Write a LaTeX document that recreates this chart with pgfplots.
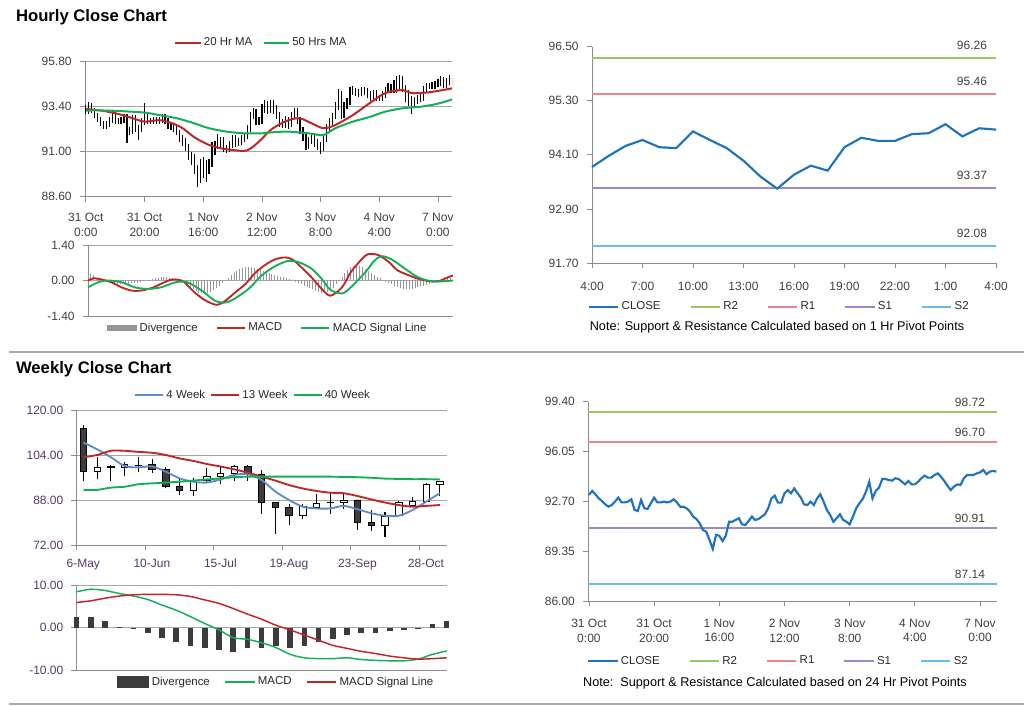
\documentclass[border=0pt]{standalone}
\usepackage{pgfplots}
\pgfplotsset{compat=1.18}
\usepackage{pgfplotstable}
\usepackage{fontspec}
\setmainfont{Liberation Sans}

\definecolor{tickgray}{RGB}{64,64,64}
\definecolor{legtext}{RGB}{40,40,40}
\definecolor{axgray}{RGB}{140,140,140}
\definecolor{gridgray}{RGB}{165,165,165}
\definecolor{sepgray}{RGB}{170,170,170}
\definecolor{redma}{RGB}{192,38,40}
\definecolor{greenma}{RGB}{20,175,85}
\definecolor{closeblue}{RGB}{30,114,190}
\definecolor{wkblue}{RGB}{95,140,200}
\definecolor{lvRtwo}{RGB}{150,200,100}
\definecolor{lvRone}{RGB}{235,135,135}
\definecolor{lvSone}{RGB}{160,135,205}
\definecolor{lvStwo}{RGB}{100,190,230}
\definecolor{divgray}{RGB}{150,150,150}
\definecolor{wkdark}{RGB}{60,60,60}
\definecolor{wkpurple}{RGB}{85,55,105}

\newcommand{\tkfont}{\fontsize{9}{11}\selectfont}
\newcommand{\lgfont}{\fontsize{8.6}{10}\selectfont}

% hourly data: hour, close, low, high, MACD divergence
\pgfplotstableread{
h c lo hi dv
0 93.13 92.98 93.45 0.20
1 93.40 92.98 93.60 0.25
2 93.17 93.02 93.55 0.20
3 92.90 92.75 93.30 0.10
4 92.72 92.55 93.05 0.05
5 92.50 92.35 92.85 0.00
6 92.34 92.20 92.62 -0.05
7 92.45 92.20 92.60 -0.05
8 92.68 92.30 92.82 -0.10
9 92.95 92.52 93.12 -0.12
10 92.63 92.48 93.10 -0.15
11 92.63 92.45 92.80 -0.15
12 92.68 92.48 92.85 -0.15
13 92.84 92.52 93.00 -0.12
14 92.12 91.45 93.00 -0.12
15 92.05 91.85 92.30 -0.10
16 92.79 91.95 92.95 -0.10
17 92.23 92.05 92.95 -0.08
18 92.19 91.60 92.40 -0.05
19 92.57 92.05 92.75 -0.03
20 92.95 92.40 93.55 0.00
21 92.63 92.45 93.10 0.03
22 92.63 92.45 92.80 0.05
23 92.68 92.48 92.85 0.08
24 92.63 92.48 92.85 0.10
25 92.68 92.48 92.85 0.12
26 92.84 92.52 93.00 0.12
27 92.63 92.45 93.00 0.12
28 92.34 92.18 92.80 0.10
29 92.34 92.15 92.52 0.08
30 92.23 92.05 92.50 0.05
31 92.01 91.85 92.40 0.02
32 91.67 91.50 92.15 -0.05
33 91.51 91.30 91.85 -0.12
34 91.22 91.00 91.70 -0.20
35 90.77 90.55 91.40 -0.28
36 90.66 90.30 90.95 -0.35
37 90.10 89.80 90.85 -0.42
38 89.50 89.10 90.30 -0.48
39 90.44 89.30 90.60 -0.50
40 90.39 89.60 90.70 -0.52
41 90.03 89.40 90.55 -0.50
42 90.39 89.80 90.60 -0.45
43 91.33 90.20 91.50 -0.38
44 91.33 90.80 91.55 -0.30
45 91.45 91.15 91.90 -0.20
46 91.56 91.25 91.75 -0.10
47 91.15 90.95 91.75 0.00
48 91.11 90.90 91.35 0.10
49 91.38 90.95 91.55 0.20
50 91.67 91.20 91.85 0.30
51 91.45 91.25 91.85 0.38
52 91.51 91.28 91.70 0.45
53 91.67 91.32 91.85 0.50
54 91.83 91.50 92.00 0.55
55 92.23 91.65 92.40 0.55
56 92.90 92.05 93.10 0.52
57 93.08 92.70 93.30 0.50
58 92.61 92.40 93.25 0.45
59 92.61 92.40 92.85 0.42
60 93.24 92.45 93.50 0.38
61 93.46 93.05 93.75 0.34
62 93.24 93.00 93.65 0.30
63 93.57 93.05 93.75 0.26
64 93.24 93.00 93.75 0.22
65 92.95 92.70 93.45 0.18
66 92.50 92.30 93.10 0.15
67 92.45 92.25 92.70 0.12
68 92.68 92.25 92.90 0.08
69 92.45 92.20 92.85 0.04
70 92.90 92.30 93.10 0.00
71 93.17 92.70 93.30 -0.05
72 92.68 92.45 93.30 -0.10
73 92.12 91.90 92.85 -0.15
74 91.78 91.55 92.30 -0.20
75 91.33 91.10 91.95 -0.25
76 91.56 91.15 91.75 -0.30
77 91.83 91.40 92.00 -0.35
78 91.45 91.25 92.00 -0.40
79 91.33 91.10 91.65 -0.45
80 91.15 90.85 91.50 -0.48
81 91.67 91.00 91.90 -0.50
82 92.23 91.50 92.45 -0.45
83 92.57 92.05 92.80 -0.38
84 92.86 92.40 93.05 -0.28
85 93.35 92.70 93.60 -0.15
86 94.02 93.20 94.30 0.00
87 92.90 92.70 94.20 0.15
88 93.40 92.75 93.60 0.30
89 93.62 93.25 93.85 0.42
90 94.20 93.45 94.40 0.52
91 94.20 94.00 94.45 0.58
92 94.13 93.95 94.35 0.60
93 94.09 93.90 94.30 0.58
94 94.25 93.92 94.42 0.52
95 94.20 94.02 94.40 0.45
96 94.02 93.85 94.35 0.38
97 93.84 93.68 94.18 0.30
98 94.07 93.68 94.25 0.22
99 93.84 93.68 94.25 0.15
100 93.84 93.65 94.02 0.08
101 94.02 93.68 94.20 0.02
102 94.25 93.85 94.42 -0.05
103 94.43 94.08 94.62 -0.10
104 94.29 94.10 94.60 -0.15
105 94.29 94.10 94.80 -0.20
106 94.47 94.12 95.00 -0.25
107 94.58 94.30 95.05 -0.30
108 94.36 94.15 95.00 -0.33
109 94.07 93.60 94.55 -0.35
110 93.75 93.40 94.25 -0.35
111 93.46 93.00 93.95 -0.33
112 93.69 93.30 93.90 -0.30
113 93.84 93.50 94.00 -0.27
114 93.80 93.60 94.10 -0.23
115 94.25 93.65 94.45 -0.20
116 94.47 94.10 94.65 -0.16
117 94.47 94.30 94.65 -0.12
118 94.47 94.30 94.68 -0.08
119 94.58 94.30 94.75 -0.05
120 94.65 94.40 94.85 -0.02
121 94.81 94.48 95.00 0.02
122 94.52 94.35 94.95 0.05
123 94.70 94.35 94.90 0.08
124 94.74 94.55 95.05 0.10
125 94.70 94.55 94.90 0.12
}\hourly

\pgfplotstableread{
h v
0 93.25
6 93.15
12 92.95
16 92.76
20 92.58
25 92.66
29 92.52
33 92.23
37 91.75
42 91.34
46 91.17
51 91.06
55 91.06
59 91.52
63 92.14
67 92.52
70 92.70
73 92.76
77 92.49
81 92.23
85 92.40
91 92.93
97 93.59
102 94.09
108 94.26
111 94.09
117 94.14
125 94.35
}\matwenty

\pgfplotstableread{
h v
0 93.17
7 93.17
13 93.13
20 93.06
25 92.93
31 92.76
37 92.49
42 92.23
48 92.05
54 91.96
60 91.96
64 92.02
69 92.05
76 91.96
81 91.87
85 92.23
91 92.58
97 92.84
102 93.11
108 93.29
114 93.37
119 93.50
122 93.62
125 93.77
}\mafifty

\pgfplotstableread{
h v
0 0.00
2 0.09
5 0.03
8 -0.07
11.5 -0.27
15 -0.40
18 -0.40
22 -0.29
25 -0.13
28.5 0.03
31 0.03
33 -0.07
36.5 -0.47
40 -0.77
44 -0.96
47 -0.80
50 -0.51
54 -0.13
57 0.27
60.5 0.60
64 0.83
67.5 0.91
70 0.83
73 0.53
76.5 0.13
80 -0.33
83 -0.60
87 -0.27
90 0.33
94 0.87
96 1.04
99.5 1.00
103 0.73
106 0.40
110 0.20
113 0.07
117 -0.03
120 -0.03
123 0.11
125 0.20
}\macdh

\pgfplotstableread{
h v
0 -0.27
3.5 -0.07
7 0.00
11.5 -0.07
16 -0.27
20.5 -0.33
25 -0.27
30 -0.07
34 -0.07
39 -0.40
43.5 -0.80
47 -0.87
50 -0.73
55 -0.33
59.5 0.20
64 0.56
68.5 0.77
72 0.73
76.5 0.47
80 0.07
83 -0.37
87 -0.51
90 -0.27
95 0.33
98 0.77
100.5 0.96
104 0.83
108.5 0.47
113 0.13
117.5 -0.03
122 -0.03
125 0.00
}\sigh

% last 24 hours close (4:00 to 4:00)
\pgfplotstableread{
t cl
0 93.83
1 94.08
2 94.30
3 94.43
4 94.27
5 94.25
6 94.62
7 94.43
8 94.25
9 93.97
10 93.62
11 93.35
12 93.66
13 93.86
14 93.75
15 94.27
16 94.48
17 94.41
18 94.41
19 94.56
20 94.58
21 94.78
22 94.51
23 94.69
24 94.66
}\dayclose

% 1 Hr pivot levels
\pgfplotstableread{
t ra rb sa sb
0 96.26 95.46 93.37 92.08
24 96.26 95.46 93.37 92.08
}\daylevels

% 24 Hr pivot levels
\pgfplotstableread{
t ra rb sa sb
-0.2 98.72 96.70 90.91 87.14
125.1 98.72 96.70 90.91 87.14
}\weeklevels

% weekly candles: open high low close, body base and heights, moving averages
\pgfplotstableread{
i o h l c base up dn w4 w13 w40
0 113.5 114.7 94.9 98.3 98.3 0 15.2 108.4 103.2 91.6
1 98.3 103.4 95.3 99.5 98.3 1.2 0 106.0 104.0 91.6
2 99.8 100.4 94.9 99.6 99.6 0 0.2 103.2 105.5 92.4
3 99.6 101.6 96.5 100.6 99.6 1.0 0 100.1 105.5 92.7
4 100.2 103.2 98.1 100.4 100.2 0.2 0 99.6 105.1 93.6
5 100.7 102.7 97.7 99.0 99.0 0 1.7 99.9 104.8 93.9
6 99.0 99.9 92.4 93.0 93.0 0 6.0 98.1 104.0 94.2
7 93.0 95.3 89.7 91.3 91.3 0 1.7 95.7 102.8 94.5
8 91.3 95.7 89.5 94.8 91.3 3.5 0 94.5 101.9 94.9
9 95.1 99.5 94.2 96.5 95.1 1.4 0 94.2 100.8 95.3
10 96.3 99.6 93.6 97.5 96.3 1.2 0 95.3 99.9 95.7
11 97.5 100.4 94.8 99.9 97.5 2.4 0 96.9 98.9 96.1
12 99.9 100.4 94.9 97.1 97.1 0 2.8 97.2 97.7 96.3
13 97.1 98.7 83.0 87.1 87.1 0 10.0 95.1 96.3 96.3
14 87.1 87.4 75.9 85.3 85.3 0 1.8 91.0 94.9 96.3
15 85.3 86.6 79.1 82.7 82.7 0 2.6 88.0 93.3 96.3
16 82.7 86.6 81.1 85.6 82.7 2.9 0 85.6 92.1 96.3
17 85.4 90.0 84.8 86.8 85.4 1.4 0 85.0 91.2 96.3
18 87.2 90.6 83.0 87.0 87.0 0 0.2 85.0 90.6 96.3
19 87.1 90.4 84.8 88.0 87.1 0.9 0 85.9 90.4 96.2
20 88.0 88.0 77.3 79.9 79.9 0 8.1 84.7 89.4 96.1
21 79.9 84.4 77.1 78.8 78.8 0 1.1 83.3 88.2 95.9
22 78.8 83.9 75.0 82.3 78.8 3.5 0 82.4 87.1 95.6
23 82.7 87.5 82.4 87.1 82.7 4.4 0 82.4 86.2 95.5
24 86.2 89.0 85.6 87.5 86.2 1.3 0 84.4 85.6 95.4
25 87.5 94.2 87.3 93.7 87.5 6.2 0 87.4 85.9 95.4
26 93.7 94.9 89.4 94.6 93.7 0.9 0 90.4 86.2 95.3
}\weekly

\pgfplotstableread{
i dv m s
0 2.6 8.4 5.9
1 2.6 9.0 6.3
2 1.6 8.7 6.9
3 0.1 8.0 7.4
4 -0.3 7.4 7.7
5 -1.1 6.6 7.8
6 -2.3 5.3 7.8
7 -3.3 4.1 7.7
8 -4.3 2.6 7.3
9 -4.8 1.0 6.5
10 -5.1 -0.5 5.7
11 -5.6 -2.3 4.5
12 -4.8 -2.7 3.2
13 -4.6 -3.5 2.0
14 -4.3 -4.6 0.6
15 -4.6 -6.2 -0.5
16 -4.3 -7.0 -1.7
17 -3.3 -7.2 -2.9
18 -2.7 -7.2 -4.1
19 -1.7 -7.0 -4.8
20 -1.3 -7.4 -5.5
21 -1.1 -7.6 -6.0
22 -0.8 -7.7 -6.6
23 -0.6 -7.7 -7.0
24 -0.3 -7.3 -7.3
25 1.0 -6.2 -7.2
26 1.6 -5.4 -7.0
}\weeklymacd

\pgfplotsset{
  panel/.style={
    scale only axis,
    axis x line*=bottom, axis y line*=left,
    axis line style={axgray, line width=0.6pt},
    tick style={axgray, line width=0.6pt},
    major tick length=4pt,
    tick align=outside,
    ymajorgrids,
    grid style={gridgray, line width=0.6pt},
    tick label style={font=\tkfont, text=tickgray},
    yticklabel style={xshift=-2.5pt, /pgf/number format/.cd, fixed, fixed zerofill, precision=2, assume math mode=true},
    scaled y ticks=false,
    xticklabel style={align=center},
  },
  lgd/.style={
    legend style={draw=none, fill=none, font=\lgfont, text=legtext, inner sep=1pt},
    legend cell align=left,
    legend image code/.code={\draw[##1, line width=1pt] (0pt,0pt) -- (#1,0pt);},
  },
  wk/.style={tick label style={text=wkpurple}},
  lvl/.style={solid, line width=1.5pt, mark=none},
}

\begin{document}
\begin{tikzpicture}
\path[use as bounding box] (0pt,0pt) rectangle (768pt,529.5pt);

% titles and separators
\node[anchor=base west, font=\fontsize{12.5}{14}\selectfont\bfseries] at (8.5pt,513pt) {Hourly Close Chart};
\node[anchor=base west, font=\fontsize{12.5}{14}\selectfont\bfseries] at (8.5pt,249pt) {Weekly Close Chart};
\draw[sepgray, line width=1.5pt] (7pt,265.5pt) -- (768pt,265.5pt);
\draw[sepgray, line width=1.5pt] (7pt,1.2pt) -- (768pt,1.2pt);

% ---------- Panel 1: hourly candles ----------
\begin{axis}[panel, lgd=19pt, at={(63.75pt,381.98pt)}, anchor=south west,
  width=275.25pt, height=101.8pt,
  xmin=-0.3, xmax=124.8, ymin=88.6, ymax=95.8,
  ytick={88.6,91.0,93.4,95.8},
  xtick={0,20,40,60,80,100,120},
  xticklabels={{31 Oct\\0:00},{31 Oct\\20:00},{1 Nov\\16:00},{2 Nov\\12:00},{3 Nov\\8:00},{4 Nov\\4:00},{7 Nov\\0:00}},
  xticklabel style={yshift=-5pt},
  legend style={at={(0.482,1.133)}, anchor=center, legend columns=2,
    /tikz/every even column/.append style={column sep=6pt}},
  ]
  \addplot[draw=none, mark=none, forget plot,
    error bars/.cd, y dir=plus, y explicit, error mark=none,
    error bar style={draw=black, solid, line width=0.9pt}]
    table[x=h, y=lo, y error expr=\thisrow{hi}-\thisrow{lo}] {\hourly};
  \addplot[redma, line width=1.5pt, smooth] table[x=h, y=v] {\matwenty};
  \addlegendentry{20 Hr MA}
  \addplot[greenma, line width=1.5pt, smooth] table[x=h, y=v] {\mafifty};
  \addlegendentry{50 Hrs MA}
\end{axis}

% ---------- Panel 2: hourly MACD ----------
\begin{axis}[panel, lgd=21pt, at={(66pt,292.5pt)}, anchor=south west,
  width=273.75pt, height=53.25pt,
  xmin=0, xmax=125, ymin=-1.4, ymax=1.4,
  ytick={-1.4,0,1.4}, xtick=\empty,
  legend style={at={(0.493,-0.169)}, anchor=center, legend columns=3,
    /tikz/every even column/.append style={column sep=12pt}},
  ]
  \addplot[ycomb, divgray, line width=0.7pt,
    legend image code/.code={\fill[divgray] (0pt,-2pt) rectangle (22pt,2pt);}]
    table[x=h, y=dv] {\hourly};
  \addlegendentry{Divergence}
  \addplot[redma, line width=1.4pt, smooth] table[x=h, y=v] {\macdh};
  \addlegendentry{MACD}
  \addplot[greenma, line width=1.4pt, smooth] table[x=h, y=v] {\sigh};
  \addlegendentry{MACD Signal Line}
\end{axis}

% ---------- Panel 3: 1 Hr pivot ----------
\begin{axis}[panel, lgd=22pt, ymajorgrids=false, clip=false,
  at={(444pt,332.25pt)}, anchor=south west,
  width=303pt, height=162.2pt,
  xmin=0, xmax=24, ymin=91.7, ymax=96.5,
  ytick={91.7,92.9,94.1,95.3,96.5},
  xtick={0,3,6,9,12,15,18,21,24},
  xticklabels={4:00,7:00,10:00,13:00,16:00,19:00,22:00,1:00,4:00},
  xticklabel style={yshift=-7pt},
  legend style={at={(0.465,-0.203)}, anchor=center, legend columns=5,
    /tikz/every even column/.append style={column sep=20pt}},
  ]
  \addplot[color=lvRtwo, lvl, forget plot] table[x=t, y=ra] {\daylevels};
  \addplot[color=lvRone, lvl, forget plot] table[x=t, y=rb] {\daylevels};
  \addplot[color=lvSone, lvl, forget plot] table[x=t, y=sa] {\daylevels};
  \addplot[color=lvStwo, lvl, forget plot] table[x=t, y=sb] {\daylevels};
  \addplot[color=closeblue, solid, line width=1.6pt, mark=none] table[x=t, y=cl] {\dayclose};
  \addlegendentry{CLOSE}
  \addlegendimage{color=lvRtwo, solid}
  \addlegendentry{R2}
  \addlegendimage{color=lvRone, solid}
  \addlegendentry{R1}
  \addlegendimage{color=lvSone, solid}
  \addlegendentry{S1}
  \addlegendimage{color=lvStwo, solid}
  \addlegendentry{S2}
  \node[anchor=base, font=\tkfont, text=tickgray, yshift=6pt] at (axis cs:22.57,96.26) {96.26};
  \node[anchor=base, font=\tkfont, text=tickgray, yshift=6pt] at (axis cs:22.57,95.46) {95.46};
  \node[anchor=base, font=\tkfont, text=tickgray, yshift=6pt] at (axis cs:22.57,93.37) {93.37};
  \node[anchor=base, font=\tkfont, text=tickgray, yshift=6pt] at (axis cs:22.57,92.08) {92.08};
\end{axis}
\node[font=\fontsize{9.5}{10}\selectfont, text=black] at (582.75pt,284.25pt)
  {Note: Support \& Resistance Calculated based on 1 Hr Pivot Points};

% ---------- Panel 4: weekly candles ----------
\begin{axis}[panel, wk, at={(57.5pt,120.75pt)}, anchor=south west,
  width=277.5pt, height=101.25pt,
  xmin=-0.5, xmax=26.5, ymin=72, ymax=120,
  ytick={72,88,104,120},
  xtick={-0.5,4.5,9.5,14.5,19.5,24.5},
  xticklabels={6-May,10-Jun,15-Jul,19-Aug,23-Sep,28-Oct},
  xticklabel style={xshift=5pt, yshift=-3pt},
  ]
  \addplot[draw=none, mark=none,
    error bars/.cd, y dir=plus, y explicit, error mark=none,
    error bar style={draw=black, solid, line width=0.8pt}]
    table[x=i, y=l, y error expr=\thisrow{h}-\thisrow{l}] {\weekly};
\end{axis}
\begin{axis}[hide axis, scale only axis, at={(57.5pt,120.75pt)}, anchor=south west,
  width=277.5pt, height=101.25pt,
  xmin=-0.5, xmax=26.5, ymin=72, ymax=120,
  ybar stacked, bar width=4.8pt]
  \addplot[draw=none, fill=none] table[x=i, y=base] {\weekly};
  \addplot[draw=black, fill=white, line width=0.6pt] table[x=i, y=up] {\weekly};
  \addplot[draw=black, fill=wkdark, line width=0.6pt] table[x=i, y=dn] {\weekly};
\end{axis}
\begin{axis}[hide axis, scale only axis, lgd=21pt, at={(57.5pt,120.75pt)}, anchor=south west,
  width=277.5pt, height=101.25pt,
  xmin=-0.5, xmax=26.5, ymin=72, ymax=120,
  legend style={at={(0.478,1.111)}, anchor=center, legend columns=3,
    /tikz/every even column/.append style={column sep=2pt}},
  ]
  \addplot[wkblue, line width=1.4pt, smooth] table[x=i, y=w4] {\weekly};
  \addlegendentry{4 Week}
  \addplot[redma, line width=1.4pt, smooth] table[x=i, y=w13] {\weekly};
  \addlegendentry{13 Week}
  \addplot[greenma, line width=1.4pt, smooth] table[x=i, y=w40] {\weekly};
  \addlegendentry{40 Week}
\end{axis}

% ---------- Panel 5: weekly MACD ----------
\begin{axis}[panel, wk, lgd=22pt, clip=false, at={(57.5pt,26.5pt)}, anchor=south west,
  width=277.5pt, height=64.3pt,
  xmin=0, xmax=26, ymin=-10, ymax=10,
  ytick={-10,0,10}, xtick=\empty,
  legend style={at={(0.54,-0.132)}, anchor=center, legend columns=3,
    /tikz/every even column/.append style={column sep=9pt}},
  ]
  \addplot[ycomb, wkdark, line width=4.2pt,
    legend image code/.code={\fill[wkdark] (0pt,-2.5pt) rectangle (20pt,2.5pt);}]
    table[x=i, y=dv] {\weeklymacd};
  \addlegendentry{Divergence}
  \addplot[greenma, line width=1.1pt, smooth] table[x=i, y=m] {\weeklymacd};
  \addlegendentry{MACD}
  \addplot[redma, line width=1.1pt, smooth] table[x=i, y=s] {\weeklymacd};
  \addlegendentry{MACD Signal Line}
\end{axis}

% ---------- Panel 6: 24 Hr pivot ----------
\begin{axis}[panel, lgd=22pt, ymajorgrids=false, clip=false,
  at={(441.2pt,78.75pt)}, anchor=south west,
  width=306.3pt, height=149.5pt,
  xmin=-0.2, xmax=125.1, ymin=86, ymax=99.4,
  ytick={86,89.35,92.7,96.05,99.4},
  xtick={0,20,40,60,80,100,120},
  xticklabels={{31 Oct\\0:00},{31 Oct\\20:00},{1 Nov\\16:00},{2 Nov\\12:00},{3 Nov\\8:00},{4 Nov\\4:00},{7 Nov\\0:00}},
  xticklabel style={yshift=-6pt},
  legend style={at={(0.467,-0.301)}, anchor=center, legend columns=5,
    /tikz/every even column/.append style={column sep=20pt}},
  ]
  \addplot[color=lvRtwo, lvl, forget plot] table[x=t, y=ra] {\weeklevels};
  \addplot[color=lvRone, lvl, forget plot] table[x=t, y=rb] {\weeklevels};
  \addplot[color=lvSone, lvl, forget plot] table[x=t, y=sa] {\weeklevels};
  \addplot[color=lvStwo, lvl, forget plot] table[x=t, y=sb] {\weeklevels};
  \addplot[color=closeblue, solid, line width=1.6pt, mark=none] table[x=h, y=c] {\hourly};
  \addlegendentry{CLOSE}
  \addlegendimage{color=lvRtwo, solid}
  \addlegendentry{R2}
  \addlegendimage{color=lvRone, solid}
  \addlegendentry{R1}
  \addlegendimage{color=lvSone, solid}
  \addlegendentry{S1}
  \addlegendimage{color=lvStwo, solid}
  \addlegendentry{S2}
  \node[anchor=base, font=\tkfont, text=tickgray, yshift=4pt] at (axis cs:116.9,98.72) {98.72};
  \node[anchor=base, font=\tkfont, text=tickgray, yshift=4pt] at (axis cs:116.9,96.70) {96.70};
  \node[anchor=base, font=\tkfont, text=tickgray, yshift=4pt] at (axis cs:116.9,90.91) {90.91};
  \node[anchor=base, font=\tkfont, text=tickgray, yshift=4pt] at (axis cs:116.9,87.14) {87.14};
\end{axis}
\node[font=\fontsize{9.5}{10}\selectfont, text=black] at (581.25pt,17.25pt)
  {Note:\ \ Support \& Resistance Calculated based on 24 Hr Pivot Points};

\end{tikzpicture}
\end{document}
